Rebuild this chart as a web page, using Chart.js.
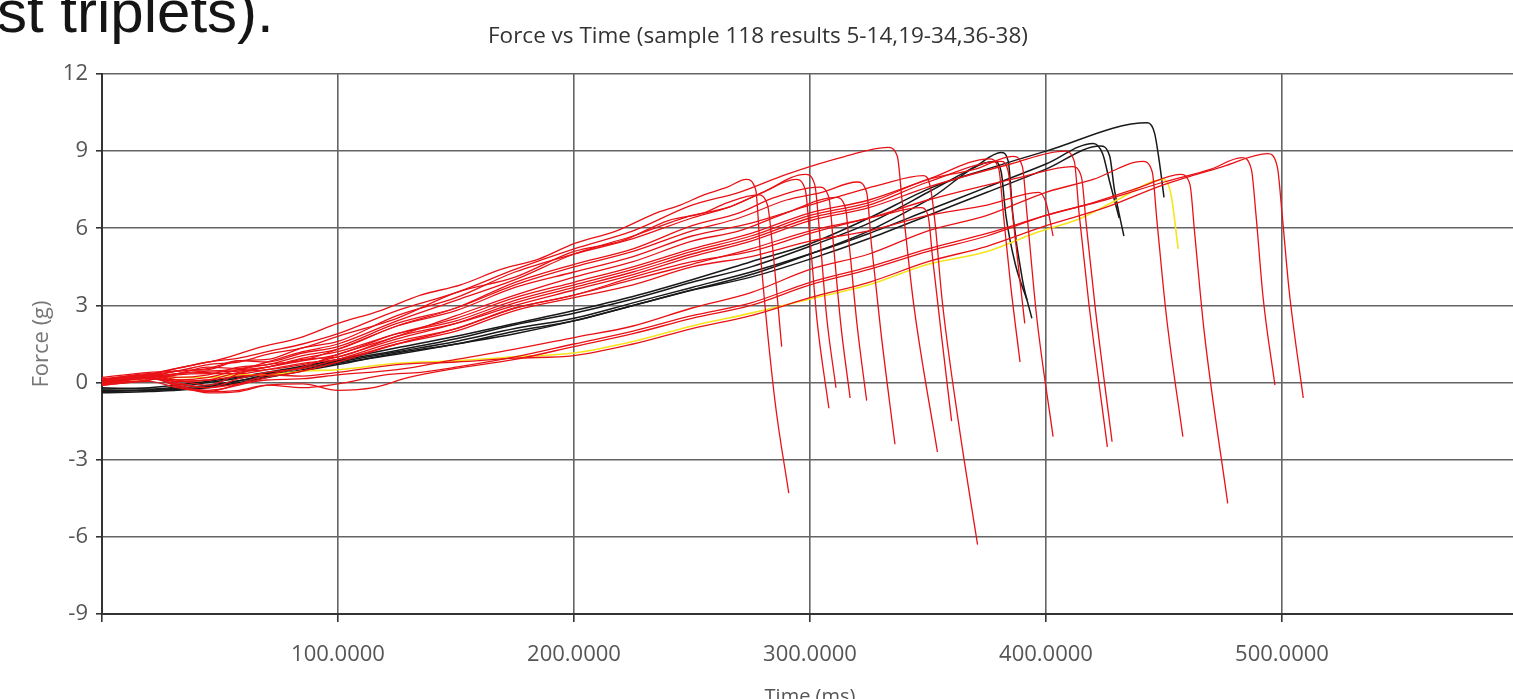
<!DOCTYPE html>
<html>
<head>
<meta charset="utf-8">
<title>Force vs Time</title>
<script src="https://cdn.jsdelivr.net/npm/chart.js@4.4.0/dist/chart.umd.min.js"></script>
<style>
html, body { margin: 0; padding: 0; background: #fff; overflow: hidden; }
#wrap { position: relative; width: 1513px; height: 699px; overflow: hidden; }
#c { position: absolute; left: 0; top: 0; }
#slide { position: absolute; left: -3px; top: -18px; font-family: "Liberation Sans", Arial, sans-serif; font-size: 60px; line-height: 60px; color: #151515; white-space: nowrap; }
</style>
</head>
<body>
<div id="wrap">
  <canvas id="c" width="1538" height="712" style="width:1538px;height:712px"></canvas>
  <div id="slide">st triplets).</div>
</div>
<script>
const chartTitle = "Force vs Time (sample 118 results 5-14,19-34,36-38)";
const xTitle = "Time (ms)";
const yTitle = "Force (g)";

const xTickValues = [100, 200, 300, 400, 500];
const xTickLabels = ["100.0000", "200.0000", "300.0000", "400.0000", "500.0000"];
const yTickValues = [-9, -6, -3, 0, 3, 6, 9, 12];
const yTickLabels = ["-9", "-6", "-3", "0", "3", "6", "9", "12"];

// each run: [time (ms), force (g)]
const redRuns = [
  [[0,0.1],[15,0.25],[34,0.6],[50,0.9],[66,1.35],[84,1.75],[100,2.3],[118,2.8],[135,3.4],[152,3.8],[169,4.4],[185,4.8],[200,5.4],[218,5.9],[235,6.6],[245,6.9],[255,7.3],[265,7.6],[273,7.9],[277,7.5],[279,5.0],[285,-0.6],[291,-4.3]],
  [[0,0.05],[20,0.3],[32,0.45],[45,0.7],[58,0.8],[70,1.1],[85,1.35],[100,1.8],[125,2.5],[150,3.5],[175,4.1],[200,5.1],[220,5.5],[240,6.3],[255,6.6],[265,7.0],[278,7.3],[282,6.9],[284,5.4],[288,1.4]],
  [[0,0.1],[20,0.2],[32,0.45],[45,0.5],[58,0.85],[70,0.9],[85,1.35],[100,1.6],[125,2.6],[150,3.3],[175,4.3],[200,5.0],[225,5.6],[250,6.4],[265,6.8],[280,7.4],[294,7.9],[298,7.5],[300,5.6],[303,2.4],[308,-1.0]],
  [[0,0],[20,0.25],[32,0.35],[45,0.6],[58,0.55],[70,0.8],[85,1.2],[100,1.5],[125,2.4],[150,3.2],[175,4.0],[200,5.0],[225,5.7],[250,6.5],[265,6.8],[280,7.4],[298,8.1],[302,7.7],[304,5.9],[307,2.6],[311,-0.2]],
  [[0,0.15],[20,0.3],[32,0.1],[45,-0.1],[58,0.35],[70,0.6],[85,0.85],[100,1.3],[125,2.2],[150,2.9],[175,3.9],[200,4.6],[225,5.2],[250,6.1],[270,6.6],[285,7.2],[304,7.6],[308,7.2],[310,5.3],[313,2.3],[317,-0.6]],
  [[0,-0.1],[20,0.2],[32,-0.1],[45,-0.35],[58,-0.05],[70,0.3],[85,0.6],[100,1.1],[125,1.8],[150,2.6],[175,3.4],[200,4.1],[225,4.7],[250,5.5],[270,5.9],[290,6.6],[311,7.2],[315,6.8],[317,5.0],[320,2.2],[324,-0.7]],
  [[0,0.2],[20,0.4],[32,0.45],[45,0.55],[58,0.85],[70,0.8],[85,1.15],[100,1.4],[125,2.3],[150,2.9],[175,3.8],[200,4.5],[225,5.1],[250,5.9],[270,6.4],[290,7.1],[305,7.4],[320,7.8],[324,7.4],[326,5.4],[330,2.0],[336,-2.4]],
  [[0,0.1],[20,0.3],[32,0.55],[45,0.8],[58,0.95],[70,1.2],[85,1.5],[100,1.9],[125,2.8],[150,3.5],[175,4.4],[200,5.2],[225,5.9],[250,6.9],[270,7.4],[290,8.1],[315,8.8],[333,9.15],[337,8.8],[339,7.1],[344,3.0],[354,-2.7]],
  [[0,0],[20,0.2],[32,-0.15],[45,-0.3],[58,-0.1],[70,0.2],[85,0.45],[100,0.8],[125,1.5],[150,2.1],[175,2.9],[200,3.4],[225,4.1],[250,4.7],[275,5.1],[300,5.8],[330,6.5],[347,6.8],[350,6.5],[352,4.8],[356,1.6],[360,-1.5]],
  [[0,0.1],[20,0.35],[32,0.2],[45,0.3],[58,0.6],[70,0.7],[85,1.05],[100,1.3],[125,2.2],[150,2.8],[175,3.7],[200,4.3],[225,4.9],[250,5.7],[275,6.2],[300,6.9],[330,7.7],[348,8.05],[351,7.6],[353,6.2],[356,3.2],[363,-1.6],[371,-6.3]],
  [[0,0.05],[20,0.2],[32,0.35],[45,0.4],[58,0.45],[70,0.6],[85,0.95],[100,1.2],[125,1.9],[150,2.5],[175,3.3],[200,3.9],[225,4.5],[250,5.2],[275,5.8],[300,6.6],[325,7.1],[350,7.9],[376,8.7],[380,8.3],[382,6.5],[385,3.8],[389,0.8]],
  [[0,-0.05],[20,0.15],[32,0.05],[45,0.1],[58,0.4],[70,0.5],[85,0.7],[100,1.0],[125,1.7],[150,2.3],[175,3.1],[200,3.7],[225,4.3],[250,5.0],[275,5.6],[300,6.4],[325,6.9],[350,7.8],[381,8.6],[384,8.2],[386,6.4],[391,2.3]],
  [[0,0.1],[20,0.25],[32,0.1],[45,0.2],[58,0.5],[70,0.7],[85,0.85],[100,1.1],[125,1.9],[150,2.4],[175,3.2],[200,3.8],[225,4.4],[250,5.1],[275,5.7],[300,6.5],[325,7.0],[350,7.9],[370,8.3],[386,8.8],[390,8.4],[392,6.5],[396,2.6],[403,-2.1]],
  [[0,0],[20,0.1],[32,0.35],[45,0.45],[58,0.5],[70,0.6],[85,0.9],[100,1.0],[125,1.8],[150,2.3],[175,3.0],[200,3.6],[225,4.2],[250,4.9],[275,5.5],[300,6.3],[325,6.8],[350,7.6],[385,8.5],[408,9.0],[412,8.6],[414,6.6],[418,3.2],[426,-2.5]],
  [[0,0.05],[20,0.3],[32,0.0],[45,-0.2],[58,0.15],[70,0.4],[85,0.55],[100,0.9],[125,1.6],[150,2.1],[175,2.9],[200,3.4],[225,4.0],[250,4.6],[275,5.2],[300,5.9],[325,6.4],[350,7.1],[390,8.0],[411,8.4],[415,8.0],[417,6.2],[421,2.8],[428,-2.3]],
  [[0,-0.1],[20,0.1],[32,0.3],[45,0.35],[58,0.35],[70,0.5],[85,0.75],[100,0.9],[125,1.5],[150,2.0],[175,2.8],[200,3.3],[225,3.8],[250,4.5],[275,4.9],[300,5.5],[325,5.9],[350,6.5],[375,6.9],[397,7.4],[400,7.0],[403,5.7]],
  [[0,0.05],[20,0.15],[32,-0.05],[45,-0.2],[58,-0.05],[70,0.1],[85,0.15],[100,0.3],[125,0.5],[150,0.9],[175,1.3],[200,1.75],[225,2.2],[250,2.9],[275,3.5],[300,4.4],[325,5.0],[350,5.9],[375,6.5],[400,7.4],[420,7.9],[441,8.6],[445,8.2],[447,6.3],[451,2.6],[458,-2.1]],
  [[0,-0.1],[20,0.05],[32,-0.2],[45,-0.35],[58,-0.3],[70,-0.1],[85,-0.2],[100,-0.05],[120,0.3],[135,0.4],[150,0.6],[175,1.0],[200,1.5],[225,2.0],[250,2.6],[275,3.1],[300,3.9],[325,4.5],[350,5.2],[375,5.8],[400,6.5],[420,7.0],[440,7.6],[457,8.1],[461,7.7],[463,5.8],[467,2.0],[477,-4.7]],
  [[0,0],[20,0.2],[32,-0.1],[45,-0.4],[58,-0.35],[70,-0.1],[85,-0.05],[100,-0.3],[115,-0.2],[130,0.2],[150,0.55],[175,0.9],[200,1.4],[225,1.9],[250,2.5],[275,3.0],[300,3.8],[325,4.4],[350,5.1],[375,5.7],[400,6.5],[425,7.1],[450,7.8],[470,8.3],[483,8.75],[487,8.3],[489,6.5],[492,3.3],[497,-0.1]],
  [[0,0.1],[20,0.2],[32,0.05],[45,0.1],[58,0.25],[70,0.3],[85,0.25],[100,0.4],[125,0.7],[150,0.8],[175,0.95],[200,1.05],[225,1.5],[250,2.1],[275,2.6],[300,3.3],[325,3.9],[350,4.7],[375,5.3],[400,6.1],[425,6.8],[450,7.7],[475,8.4],[494,8.9],[498,8.4],[500,6.6],[503,3.6],[509,-0.6]]
];

const yellowRuns = [
  [[0,0.05],[20,0.15],[32,0.2],[45,0.2],[58,0.3],[70,0.3],[85,0.45],[100,0.5],[125,0.75],[150,0.85],[175,1.0],[200,1.15],[225,1.6],[250,2.2],[275,2.7],[300,3.25],[325,3.8],[350,4.6],[375,5.1],[395,5.8],[415,6.4],[430,7.1],[450,7.9],[453,7.3],[456,5.2]]
];

const blackRuns = [
  [[0,-0.3],[20,-0.3],[45,-0.15],[70,0.3],[100,0.85],[125,1.25],[150,1.7],[175,2.25],[200,2.7],[225,3.25],[250,3.9],[275,4.5],[300,5.3],[325,6.2],[350,7.4],[370,8.4],[381,8.95],[384,8.6],[386,6.5],[390,4.0],[394,2.5]],
  [[0,-0.4],[20,-0.35],[45,-0.2],[70,0.2],[100,0.7],[125,1.15],[150,1.5],[175,2.0],[200,2.4],[225,3.0],[250,3.6],[275,4.2],[300,5.0],[325,5.9],[350,7.1],[378,8.6],[381,8.2],[383,6.5],[387,4.6],[392,3.2]],
  [[0,-0.2],[20,-0.25],[45,0.0],[70,0.35],[100,0.8],[125,1.2],[150,1.6],[175,2.1],[200,2.5],[225,3.1],[250,3.7],[275,4.3],[300,5.0],[325,5.8],[350,6.7],[375,7.6],[400,8.5],[420,9.3],[424,8.9],[427,7.8],[431,6.4]],
  [[0,-0.35],[20,-0.3],[45,-0.1],[70,0.25],[100,0.75],[125,1.1],[150,1.5],[175,1.9],[200,2.4],[225,3.0],[250,3.6],[275,4.1],[300,4.8],[325,5.6],[350,6.5],[375,7.4],[400,8.3],[423,9.2],[427,8.8],[429,7.5],[433,5.7]],
  [[0,-0.25],[20,-0.2],[45,0.05],[70,0.4],[100,0.9],[125,1.35],[150,1.8],[175,2.3],[200,2.8],[225,3.35],[250,4.0],[275,4.7],[300,5.4],[325,6.4],[352,7.6],[375,8.3],[400,9.0],[443,10.1],[446,9.7],[448,8.6],[450,7.2]]
];

const uiFont = "'Open Sans', 'Noto Sans', sans-serif";

function runToDataset(run, colour, width) {
  return {
    data: run.map(p => ({x: p[0], y: p[1]})),
    borderColor: colour,
    borderWidth: width,
    pointRadius: 0,
    fill: false,
    cubicInterpolationMode: "monotone"
  };
}

var datasets = [];
redRuns.forEach(r => datasets.push(runToDataset(r, "rgb(232,18,22)", 1.3)));
yellowRuns.forEach(r => datasets.push(runToDataset(r, "rgb(245,228,30)", 1.6)));
blackRuns.forEach(r => datasets.push(runToDataset(r, "rgb(25,25,25)", 1.5)));

const config = {
  type: "line",
  data: {datasets: datasets},
  options: {
    responsive: false,
    animation: false,
    // negative left padding so the title centres where the original one sits
    layout: {padding: {left: -22, right: 0, top: 0, bottom: 0}},
    plugins: {
      legend: {display: false},
      tooltip: {enabled: false},
      title: {
        display: true,
        text: chartTitle,
        color: "#333",
        font: {family: uiFont, size: 22.5, weight: "normal"},
        padding: {top: 23.5, bottom: 23.5}
      }
    },
    scales: {
      x: {
        type: "linear",
        min: 0,
        max: 600,
        afterFit: s => { s.height = 98; },
        ticks: {
          stepSize: 100,
          autoSkip: false,
          maxRotation: 0,
          padding: 20,
          color: "#555",
          font: {family: uiFont, size: 22},
          callback: v => {
            var i = xTickValues.indexOf(v);
            return i >= 0 ? xTickLabels[i] : "";
          }
        },
        grid: {color: "#646464", lineWidth: 1.6, tickLength: 8, tickColor: "#333"},
        border: {color: "#333", width: 2},
        title: {display: true, text: xTitle, color: "#555", font: {family: uiFont, size: 20}, padding: {top: 0, bottom: 3}}
      },
      y: {
        min: -9,
        max: 12,
        afterFit: s => { s.width = 124; },
        ticks: {
          stepSize: 3,
          padding: 8,
          color: "#555",
          font: {family: uiFont, size: 22},
          callback: v => {
            var i = yTickValues.indexOf(v);
            return i >= 0 ? yTickLabels[i] : "";
          }
        },
        grid: {color: "#646464", lineWidth: 1.6, tickLength: 6, tickColor: "#333"},
        border: {color: "#333", width: 2},
        title: {display: true, text: yTitle, color: "#777", font: {family: uiFont, size: 22}, padding: {top: 51, bottom: 0}}
      }
    }
  }
};

const forceChart = new Chart(document.getElementById("c"), config);
</script>
</body>
</html>
